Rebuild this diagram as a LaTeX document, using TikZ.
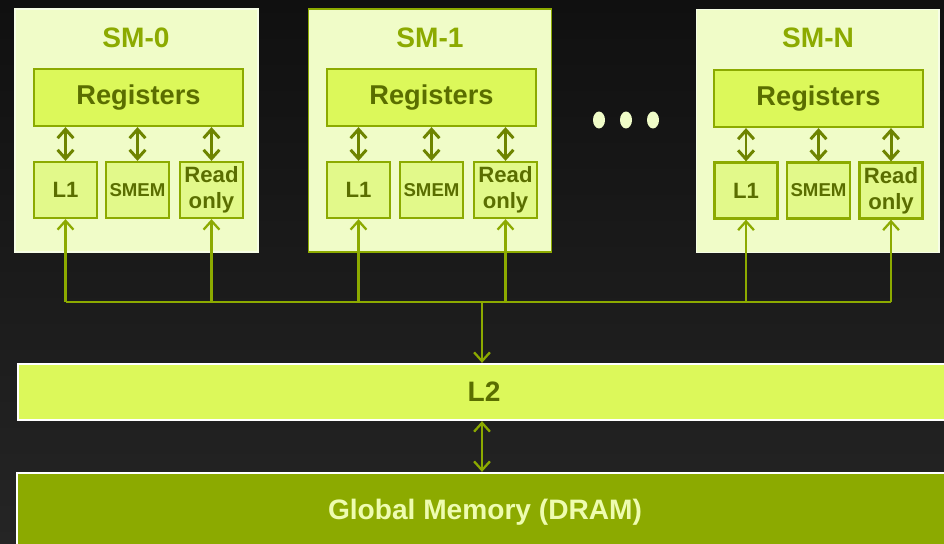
\documentclass[tikz,border=0pt]{standalone}
\usepackage{fontspec}
\setmainfont{Liberation Sans}
\usepackage{tikz}
\usepackage{xcolor}
\usetikzlibrary{shapes, arrows.meta, positioning}

\definecolor{bgtop}{HTML}{101010}
\definecolor{bgbot}{HTML}{252525}
\definecolor{smfill}{HTML}{F0FCC8}
\definecolor{smedge}{HTML}{F6FDE6}
\definecolor{regfill}{HTML}{DCF85A}
\definecolor{cachefill}{HTML}{E2F98A}
\definecolor{olive}{HTML}{8CAA00}
\definecolor{darkolive}{HTML}{5A6E00}
\definecolor{arrolive}{HTML}{6E8400}
\definecolor{gmemtext}{HTML}{EEFCB0}

\begin{document}
\begin{tikzpicture}[x=0.02cm, y=-0.02cm, line width=1.3pt, >={Straight Barb[length=5pt,width=9pt]},
        smbox/.style={rectangle, draw=smedge, fill=smfill, line width=0.6pt, minimum width=4.86cm, minimum height=4.86cm},
        smtitle/.style={text=olive, font=\fontsize{16}{19}\selectfont\bfseries},
        regbox/.style={rectangle, draw=olive, fill=regfill, text=darkolive, minimum width=4.18cm, minimum height=1.14cm, font=\fontsize{15.5}{18}\selectfont\bfseries},
        cachebox/.style={rectangle, draw=olive, fill=cachefill, text=darkolive, minimum width=1.26cm, minimum height=1.12cm, inner sep=1pt, align=center, font=\fontsize{12.6}{14.7}\selectfont\bfseries},
        dbl/.style={<->, draw=arrolive, line width=1.7pt},
        feed/.style={->, draw=olive},
        busline/.style={draw=olive},
        dot/.style={ellipse, fill=smfill, minimum width=0.24cm, minimum height=0.34cm, inner sep=0pt}]
        \useasboundingbox (0,0) rectangle (944,544);
        \clip (0,0) rectangle (944,544);
        \shade[top color=bgtop, bottom color=bgbot] (0,0) rectangle (944,544);

        % SM-0
        \node [smbox] (sm0) at (136.5, 130.5) {};
        \node [smtitle] (title0) at (136, 38) {SM-0};
        \node [regbox] (reg0) at (138.5, 97.5) {Registers};
        \node [cachebox] (l1-0) at (65.5, 190) {L1};
        \node [cachebox, font=\fontsize{10.6}{12}\selectfont\bfseries] (smem0) at (137.5, 190) {SMEM};
        \node [cachebox] (ro0) at (211.5, 190) {Read\\only};
        \draw [dbl] (reg0.south -| l1-0) -- (l1-0);
        \draw [dbl] (reg0.south -| smem0) -- (smem0);
        \draw [dbl] (reg0.south -| ro0) -- (ro0);

        % SM-1
        \node [smbox, draw=olive, line width=1.1pt] (sm1) at (430, 130.5) {};
        \node [smtitle] (title1) at (430, 38) {SM-1};
        \node [regbox] (reg1) at (431.5, 97.5) {Registers};
        \node [cachebox] (l1-1) at (358.5, 190) {L1};
        \node [cachebox, font=\fontsize{10.6}{12}\selectfont\bfseries] (smem1) at (431.5, 190) {SMEM};
        \node [cachebox] (ro1) at (505.5, 190) {Read\\only};
        \draw [dbl] (reg1.south -| l1-1) -- (l1-1);
        \draw [dbl] (reg1.south -| smem1) -- (smem1);
        \draw [dbl] (reg1.south -| ro1) -- (ro1);

        % dots between
        \node [dot] (dot1) at (599, 120) {};
        \node [dot] (dot2) at (626, 120) {};
        \node [dot] (dot3) at (653, 120) {};

        % SM-N
        \node [smbox] (smn) at (817.5, 131) {};
        \node [smtitle] (titlen) at (818, 38) {SM-N};
        \node [regbox] (regn) at (818.5, 98.5) {Registers};
        \node [cachebox] (l1-n) at (746, 190.5) {L1};
        \node [cachebox, font=\fontsize{10.6}{12}\selectfont\bfseries] (smemn) at (818.5, 190.5) {SMEM};
        \node [cachebox] (ron) at (891, 190.5) {Read\\only};
        \draw [dbl] (regn.south -| l1-n) -- (l1-n);
        \draw [dbl] (regn.south -| smemn) -- (smemn);
        \draw [dbl] (regn.south -| ron) -- (ron);

        % bus to L1 / read only
        \coordinate (bus) at (0, 302);
        \coordinate (tap) at (482, 302);
        \draw [busline] (l1-0 |- bus) -- (ron |- bus);
        \draw [feed] (l1-0 |- bus) -- (l1-0);
        \draw [feed] (ro0 |- bus) -- (ro0);
        \draw [feed] (l1-1 |- bus) -- (l1-1);
        \draw [feed] (ro1 |- bus) -- (ro1);
        \draw [feed] (l1-n |- bus) -- (l1-n);
        \draw [feed] (ron |- bus) -- (ron);

        % L2 and DRAM
        \node [rectangle, draw=white, fill=regfill, text=darkolive, minimum width=18.64cm, minimum height=1.12cm, font=\fontsize{16}{19}\selectfont\bfseries] (l2) at (484, 392) {L2};
        \node [rectangle, draw=white, fill=olive, text=gmemtext, minimum width=18.72cm, minimum height=1.56cm, font=\fontsize{16}{19}\selectfont\bfseries] (gmem) at (485, 512) {Global Memory (DRAM)};
        \draw [feed] (tap) -- (tap |- l2.north);
        \draw [<->, draw=olive] (l2.south -| tap) -- (gmem.north -| tap);
    \end{tikzpicture}
\end{document}
